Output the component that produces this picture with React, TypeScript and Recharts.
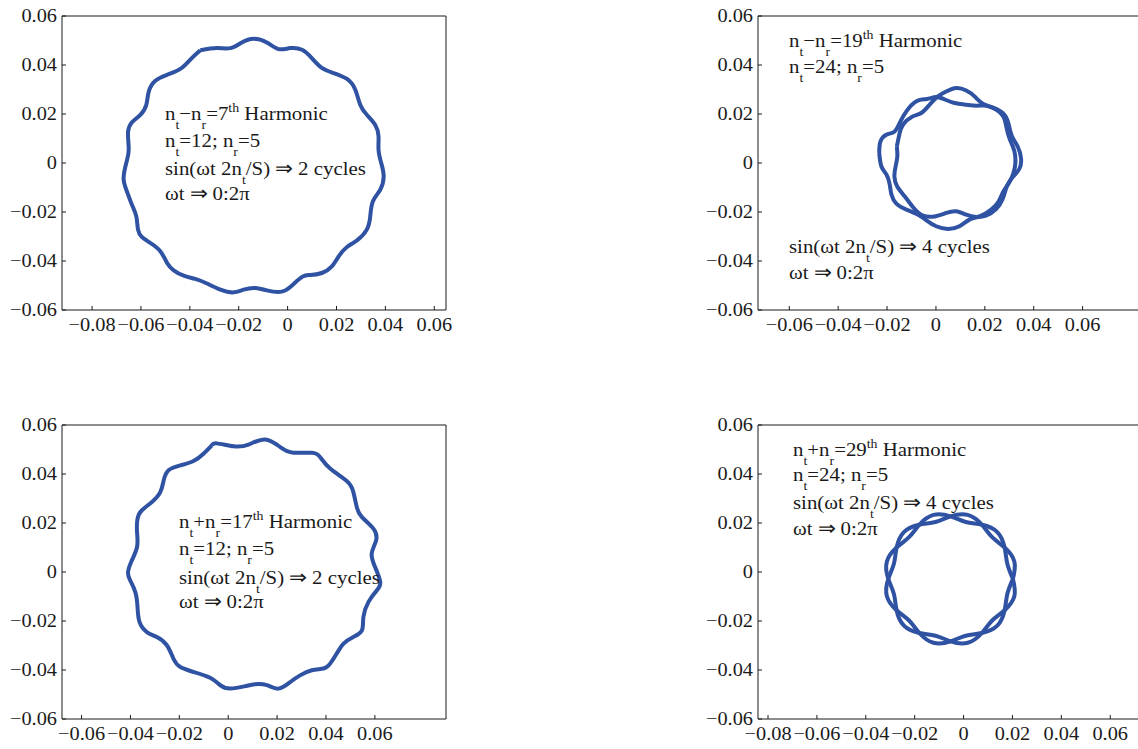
import React from 'react'
import { LineChart, Line, XAxis, YAxis } from 'recharts'

// axis ticks
const yTicks = [-0.06, -0.04, -0.02, 0, 0.02, 0.04, 0.06]
const xTicksWide = [-0.08, -0.06, -0.04, -0.02, 0, 0.02, 0.04, 0.06]
const xTicksNarrow = [-0.06, -0.04, -0.02, 0, 0.02, 0.04, 0.06]

// nt-nr = 7th harmonic (top left)
const p1X = [-0.0357, -0.0289, -0.0234, -0.0187, -0.0139, -0.0085, -0.0037, 0.0011, 0.0059, 0.0099, 0.014, 0.0188, 0.0243, 0.0277, 0.0297, 0.0324, 0.0358, 0.0372, 0.0372, 0.0383, 0.0393, 0.0379, 0.0349, 0.0338, 0.0324, 0.0284, 0.0243, 0.0209, 0.0181, 0.014, 0.0093, 0.0059, 0.0011, -0.003, -0.0085, -0.0132, -0.018, -0.0221, -0.0275, -0.033, -0.0378, -0.0425, -0.0466, -0.0493, -0.0521, -0.0562, -0.0596, -0.0612, -0.0619, -0.0637, -0.066, -0.0671, -0.066, -0.065, -0.0653, -0.0637, -0.0602, -0.0578, -0.0568, -0.0541, -0.0493, -0.0439, -0.0398]
const p1Y = [0.046, 0.0469, 0.0469, 0.0492, 0.0507, 0.0492, 0.0465, 0.0469, 0.0462, 0.0428, 0.0388, 0.0367, 0.0343, 0.0299, 0.0238, 0.0197, 0.0156, 0.0109, 0.0054, 0, -0.0054, -0.0109, -0.0156, -0.0218, -0.0272, -0.0316, -0.0343, -0.0381, -0.0422, -0.0449, -0.0457, -0.0465, -0.0506, -0.0526, -0.052, -0.051, -0.0517, -0.0528, -0.0517, -0.0492, -0.0473, -0.046, -0.0438, -0.0408, -0.036, -0.0326, -0.0302, -0.0272, -0.0218, -0.017, -0.0109, -0.0061, 0, 0.0054, 0.0122, 0.0166, 0.0197, 0.0238, 0.0292, 0.0336, 0.036, 0.0384, 0.0422]

// nt-nr = 19th harmonic (top right), two passes round
const p2aX = [-0.0232, -0.0227, -0.0202, -0.0169, -0.0145, -0.0121, -0.008, -0.0037, 0.0001, 0.0039, 0.0076, 0.0124, 0.0167, 0.0208, 0.0246, 0.0276, 0.0289, 0.0303, 0.0321, 0.0325, 0.0317, 0.03, 0.0276, 0.0257, 0.0226, 0.0178, 0.0137, 0.0096, 0.0049, 0.0001, -0.0039, -0.0073, -0.0121, -0.0162, -0.0182, -0.0189, -0.0202, -0.0223]
const p2aY = [0.0041, 0.0088, 0.0116, 0.0129, 0.017, 0.0211, 0.0252, 0.0261, 0.0269, 0.0258, 0.0245, 0.0238, 0.0234, 0.0234, 0.0218, 0.019, 0.0143, 0.0095, 0.0048, 0, -0.0041, -0.0079, -0.0116, -0.0156, -0.019, -0.0218, -0.0231, -0.0258, -0.0269, -0.0258, -0.0234, -0.0211, -0.019, -0.0166, -0.0129, -0.0088, -0.0048, -0.0014]
const p2bX = [-0.016, -0.015, -0.0135, -0.0096, -0.006, -0.0026, 0.0008, 0.0042, 0.0083, 0.0124, 0.0158, 0.0192, 0.0239, 0.028, 0.0298, 0.0311, 0.0334, 0.0348, 0.0341, 0.0311, 0.0289, 0.0273, 0.0246, 0.0205, 0.0164, 0.0124, 0.0083, 0.0042, -0.0005, -0.0053, -0.0091, -0.0128, -0.0159, -0.017, -0.0165, -0.0158]
const p2bY = [0.0068, 0.0116, 0.0156, 0.019, 0.0204, 0.0238, 0.0272, 0.0292, 0.0306, 0.0296, 0.0272, 0.0242, 0.0224, 0.0197, 0.0156, 0.0109, 0.0068, 0.002, -0.0024, -0.0061, -0.0098, -0.0147, -0.0188, -0.0215, -0.022, -0.0211, -0.0197, -0.0204, -0.0218, -0.0215, -0.0184, -0.0136, -0.0095, -0.0054, -0.0014, 0.0027]

// nt+nr = 17th harmonic (bottom left)
const p3X = [-0.0067, -0.0046, 0.0022, 0.0083, 0.0151, 0.0213, 0.0267, 0.0342, 0.0376, 0.0417, 0.0485, 0.0512, 0.0526, 0.0547, 0.0594, 0.0605, 0.0587, 0.0601, 0.0622, 0.0608, 0.0574, 0.0553, 0.0547, 0.0512, 0.0472, 0.0444, 0.0417, 0.039, 0.0342, 0.0294, 0.0254, 0.0206, 0.0158, 0.011, 0.007, 0.0008, -0.0033, -0.0074, -0.0142, -0.0196, -0.0224, -0.0251, -0.0292, -0.0333, -0.0363, -0.0371, -0.038, -0.0401, -0.041, -0.0397, -0.0373, -0.0373, -0.0371, -0.0353, -0.0312, -0.0278, -0.0264, -0.0244, -0.0196, -0.0142, -0.0101]
const p3Y = [0.0517, 0.0525, 0.0513, 0.052, 0.0541, 0.051, 0.0487, 0.0487, 0.0469, 0.0422, 0.0371, 0.0326, 0.0265, 0.0224, 0.0177, 0.0129, 0.0075, 0.002, -0.0041, -0.0075, -0.0122, -0.0184, -0.0238, -0.0265, -0.0292, -0.0333, -0.0374, -0.0394, -0.0401, -0.0422, -0.0449, -0.0476, -0.0462, -0.0458, -0.0466, -0.0476, -0.0462, -0.0432, -0.0408, -0.0388, -0.0354, -0.0299, -0.0265, -0.0245, -0.0204, -0.0143, -0.0082, -0.0034, -0.0003, 0.0041, 0.0102, 0.0163, 0.0218, 0.0252, 0.0286, 0.0326, 0.0374, 0.0415, 0.0435, 0.0453, 0.0483]

// nt+nr = 29th harmonic (bottom right), two braided passes
const p4aX = [0.0202, 0.0208, 0.0168, 0.0117, 0.0075, 0.0017, -0.0053, -0.0115, -0.0181, -0.0244, -0.0274, -0.0285, -0.0308, -0.0314, -0.0274, -0.0223, -0.0181, -0.0123, -0.0053, 0.0009, 0.0075, 0.0138, 0.0168, 0.0179]
const p4aY = [-0.0028, 0.0042, 0.01, 0.0142, 0.0193, 0.0233, 0.0227, 0.0204, 0.0193, 0.0163, 0.01, 0.0034, -0.0028, -0.0098, -0.0156, -0.0198, -0.0249, -0.0289, -0.0283, -0.026, -0.0249, -0.0219, -0.0156, -0.009]
const p4bX = [0.0202, 0.0179, 0.0168, 0.0138, 0.0075, 0.0009, -0.0053, -0.0123, -0.0181, -0.0223, -0.0274, -0.0314, -0.0308, -0.0285, -0.0274, -0.0244, -0.0181, -0.0115, -0.0053, 0.0017, 0.0075, 0.0117, 0.0168, 0.0208]
const p4bY = [-0.0028, 0.0034, 0.01, 0.0163, 0.0193, 0.0204, 0.0227, 0.0233, 0.0193, 0.0142, 0.01, 0.0042, -0.0028, -0.009, -0.0156, -0.0219, -0.0249, -0.026, -0.0283, -0.0289, -0.0249, -0.0198, -0.0156, -0.0098]

const SERIF = "'Liberation Serif', 'Times New Roman', Times, serif"
const BLUE = '#2f52a3'
const INK = '#1a1a1a'

// closed loop: repeat the first point at the end
const loop = (xs: number[], ys: number[]) => {
  const pts = xs.map((x, i) => ({ x, y: ys[i] }))
  return [...pts, pts[0]]
}

const fmt = (v: number) => (v === 0 ? '0' : (v < 0 ? '\u2212' : '') + Math.abs(v).toFixed(2))

// the source figure's lettering is a little wider than Liberation Serif
function Tick(props: any) {
  const { x, y, payload, textAnchor, orientation } = props
  const dy = orientation === 'bottom' ? '0.71em' : '0.34em'
  return (
    <g transform={`translate(${x},${y}) scale(1.1,1)`}>
      <text x={0} y={0} dy={dy} textAnchor={textAnchor} fontFamily={SERIF} fontSize={18.5} fill={INK}>
        {fmt(payload.value)}
      </text>
    </g>
  )
}

function Panel({ left, top, xDomain, xTicks, curves }: {
  left: number
  top: number
  xDomain: [number, number]
  xTicks: number[]
  curves: { x: number; y: number }[][]
}) {
  return (
    <div style={{ position: 'absolute', left, top }}>
      <LineChart width={460} height={340} margin={{ top: 15, right: 13, bottom: 0, left: 0 }}>
        <XAxis dataKey="x" type="number" domain={xDomain} ticks={xTicks} allowDataOverflow interval={0}
          height={30} tickSize={-4} tickMargin={12} stroke={INK} tick={<Tick orientation="bottom" />} />
        <XAxis xAxisId="top" orientation="top" dataKey="x" type="number" domain={xDomain} ticks={xTicks}
          allowDataOverflow interval={0} height={1} tickSize={-4} tick={false} stroke={INK} />
        <YAxis dataKey="y" type="number" domain={[-0.06, 0.06]} ticks={yTicks} allowDataOverflow interval={0}
          width={62} tickSize={-4} tickMargin={9} stroke={INK} tick={<Tick orientation="left" />} />
        <YAxis yAxisId="right" orientation="right" dataKey="y" type="number" domain={[-0.06, 0.06]} ticks={yTicks}
          allowDataOverflow interval={0} width={1} tickSize={-4} tick={false} stroke={INK} />
        {curves.map((c, i) => (
          <Line key={i} data={c} dataKey="y" type="natural" stroke={BLUE} strokeWidth={4}
            dot={false} activeDot={false} isAnimationActive={false} />
        ))}
      </LineChart>
    </div>
  )
}

// 0 = normal, 1 = subscript, 2 = superscript
type Seg = [string, 0 | 1 | 2]

function Note({ x, y, segs }: { x: number; y: number; segs: Seg[] }) {
  let shift = 0
  return (
    <g transform={`translate(${x},${y}) scale(1.07,1)`}>
      <text x={0} y={0} fontFamily={SERIF} fontSize={19.5} fill={INK} style={{ whiteSpace: 'pre' }}>
        {segs.map(([t, k], i) => {
          const target = k === 1 ? 9 : k === 2 ? -8 : 0
          const dy = target - shift
          shift = target
          return (
            <tspan key={i} dy={dy} fontSize={k ? 13 : 19.5}>{t}</tspan>
          )
        })}
      </text>
    </g>
  )
}

export default function App() {
  return (
    <div style={{ position: 'absolute', left: 0, top: 0, width: 1138, height: 749, overflow: 'hidden', background: '#fff', fontFamily: SERIF }}>
      <Panel left={0} top={0} xDomain={[-0.0923, 0.0648]} xTicks={xTicksWide} curves={[loop(p1X, p1Y)]} />
      <Panel left={696} top={0} xDomain={[-0.0728, 0.0843]} xTicks={xTicksNarrow} curves={[loop(p2aX, p2aY), loop(p2bX, p2bY)]} />
      <Panel left={0} top={409} xDomain={[-0.068, 0.0891]} xTicks={xTicksNarrow} curves={[loop(p3X, p3Y)]} />
      <Panel left={696} top={409} xDomain={[-0.0841, 0.073]} xTicks={xTicksWide} curves={[loop(p4aX, p4aY), loop(p4bX, p4bY)]} />
      <svg width={1138} height={749} style={{ position: 'absolute', left: 0, top: 0, pointerEvents: 'none' }}>
        <Note x={165} y={120} segs={[['n', 0], ['t', 1], ['\u2212n', 0], ['r', 1], ['=7', 0], ['th', 2], [' Harmonic', 0]]} />
        <Note x={165} y={147} segs={[['n', 0], ['t', 1], ['=12; n', 0], ['r', 1], ['=5', 0]]} />
        <Note x={165} y={175} segs={[['sin(\u03c9t 2n', 0], ['t', 1], ['/S) \u21d2 2 cycles', 0]]} />
        <Note x={165} y={200} segs={[['\u03c9t \u21d2 0:2\u03c0', 0]]} />

        <Note x={789} y={47} segs={[['n', 0], ['t', 1], ['\u2212n', 0], ['r', 1], ['=19', 0], ['th', 2], [' Harmonic', 0]]} />
        <Note x={789} y={73} segs={[['n', 0], ['t', 1], ['=24; n', 0], ['r', 1], ['=5', 0]]} />
        <Note x={789} y={253} segs={[['sin(\u03c9t 2n', 0], ['t', 1], ['/S) \u21d2 4 cycles', 0]]} />
        <Note x={789} y={279} segs={[['\u03c9t \u21d2 0:2\u03c0', 0]]} />

        <Note x={179} y={528} segs={[['n', 0], ['t', 1], ['+n', 0], ['r', 1], ['=17', 0], ['th', 2], [' Harmonic', 0]]} />
        <Note x={179} y={555} segs={[['n', 0], ['t', 1], ['=12; n', 0], ['r', 1], ['=5', 0]]} />
        <Note x={179} y={584} segs={[['sin(\u03c9t 2n', 0], ['t', 1], ['/S) \u21d2 2 cycles', 0]]} />
        <Note x={179} y={608} segs={[['\u03c9t \u21d2 0:2\u03c0', 0]]} />

        <Note x={793} y={456} segs={[['n', 0], ['t', 1], ['+n', 0], ['r', 1], ['=29', 0], ['th', 2], [' Harmonic', 0]]} />
        <Note x={793} y={481} segs={[['n', 0], ['t', 1], ['=24; n', 0], ['r', 1], ['=5', 0]]} />
        <Note x={793} y={509} segs={[['sin(\u03c9t 2n', 0], ['t', 1], ['/S) \u21d2 4 cycles', 0]]} />
        <Note x={793} y={535} segs={[['\u03c9t \u21d2 0:2\u03c0', 0]]} />
      </svg>
    </div>
  )
}
